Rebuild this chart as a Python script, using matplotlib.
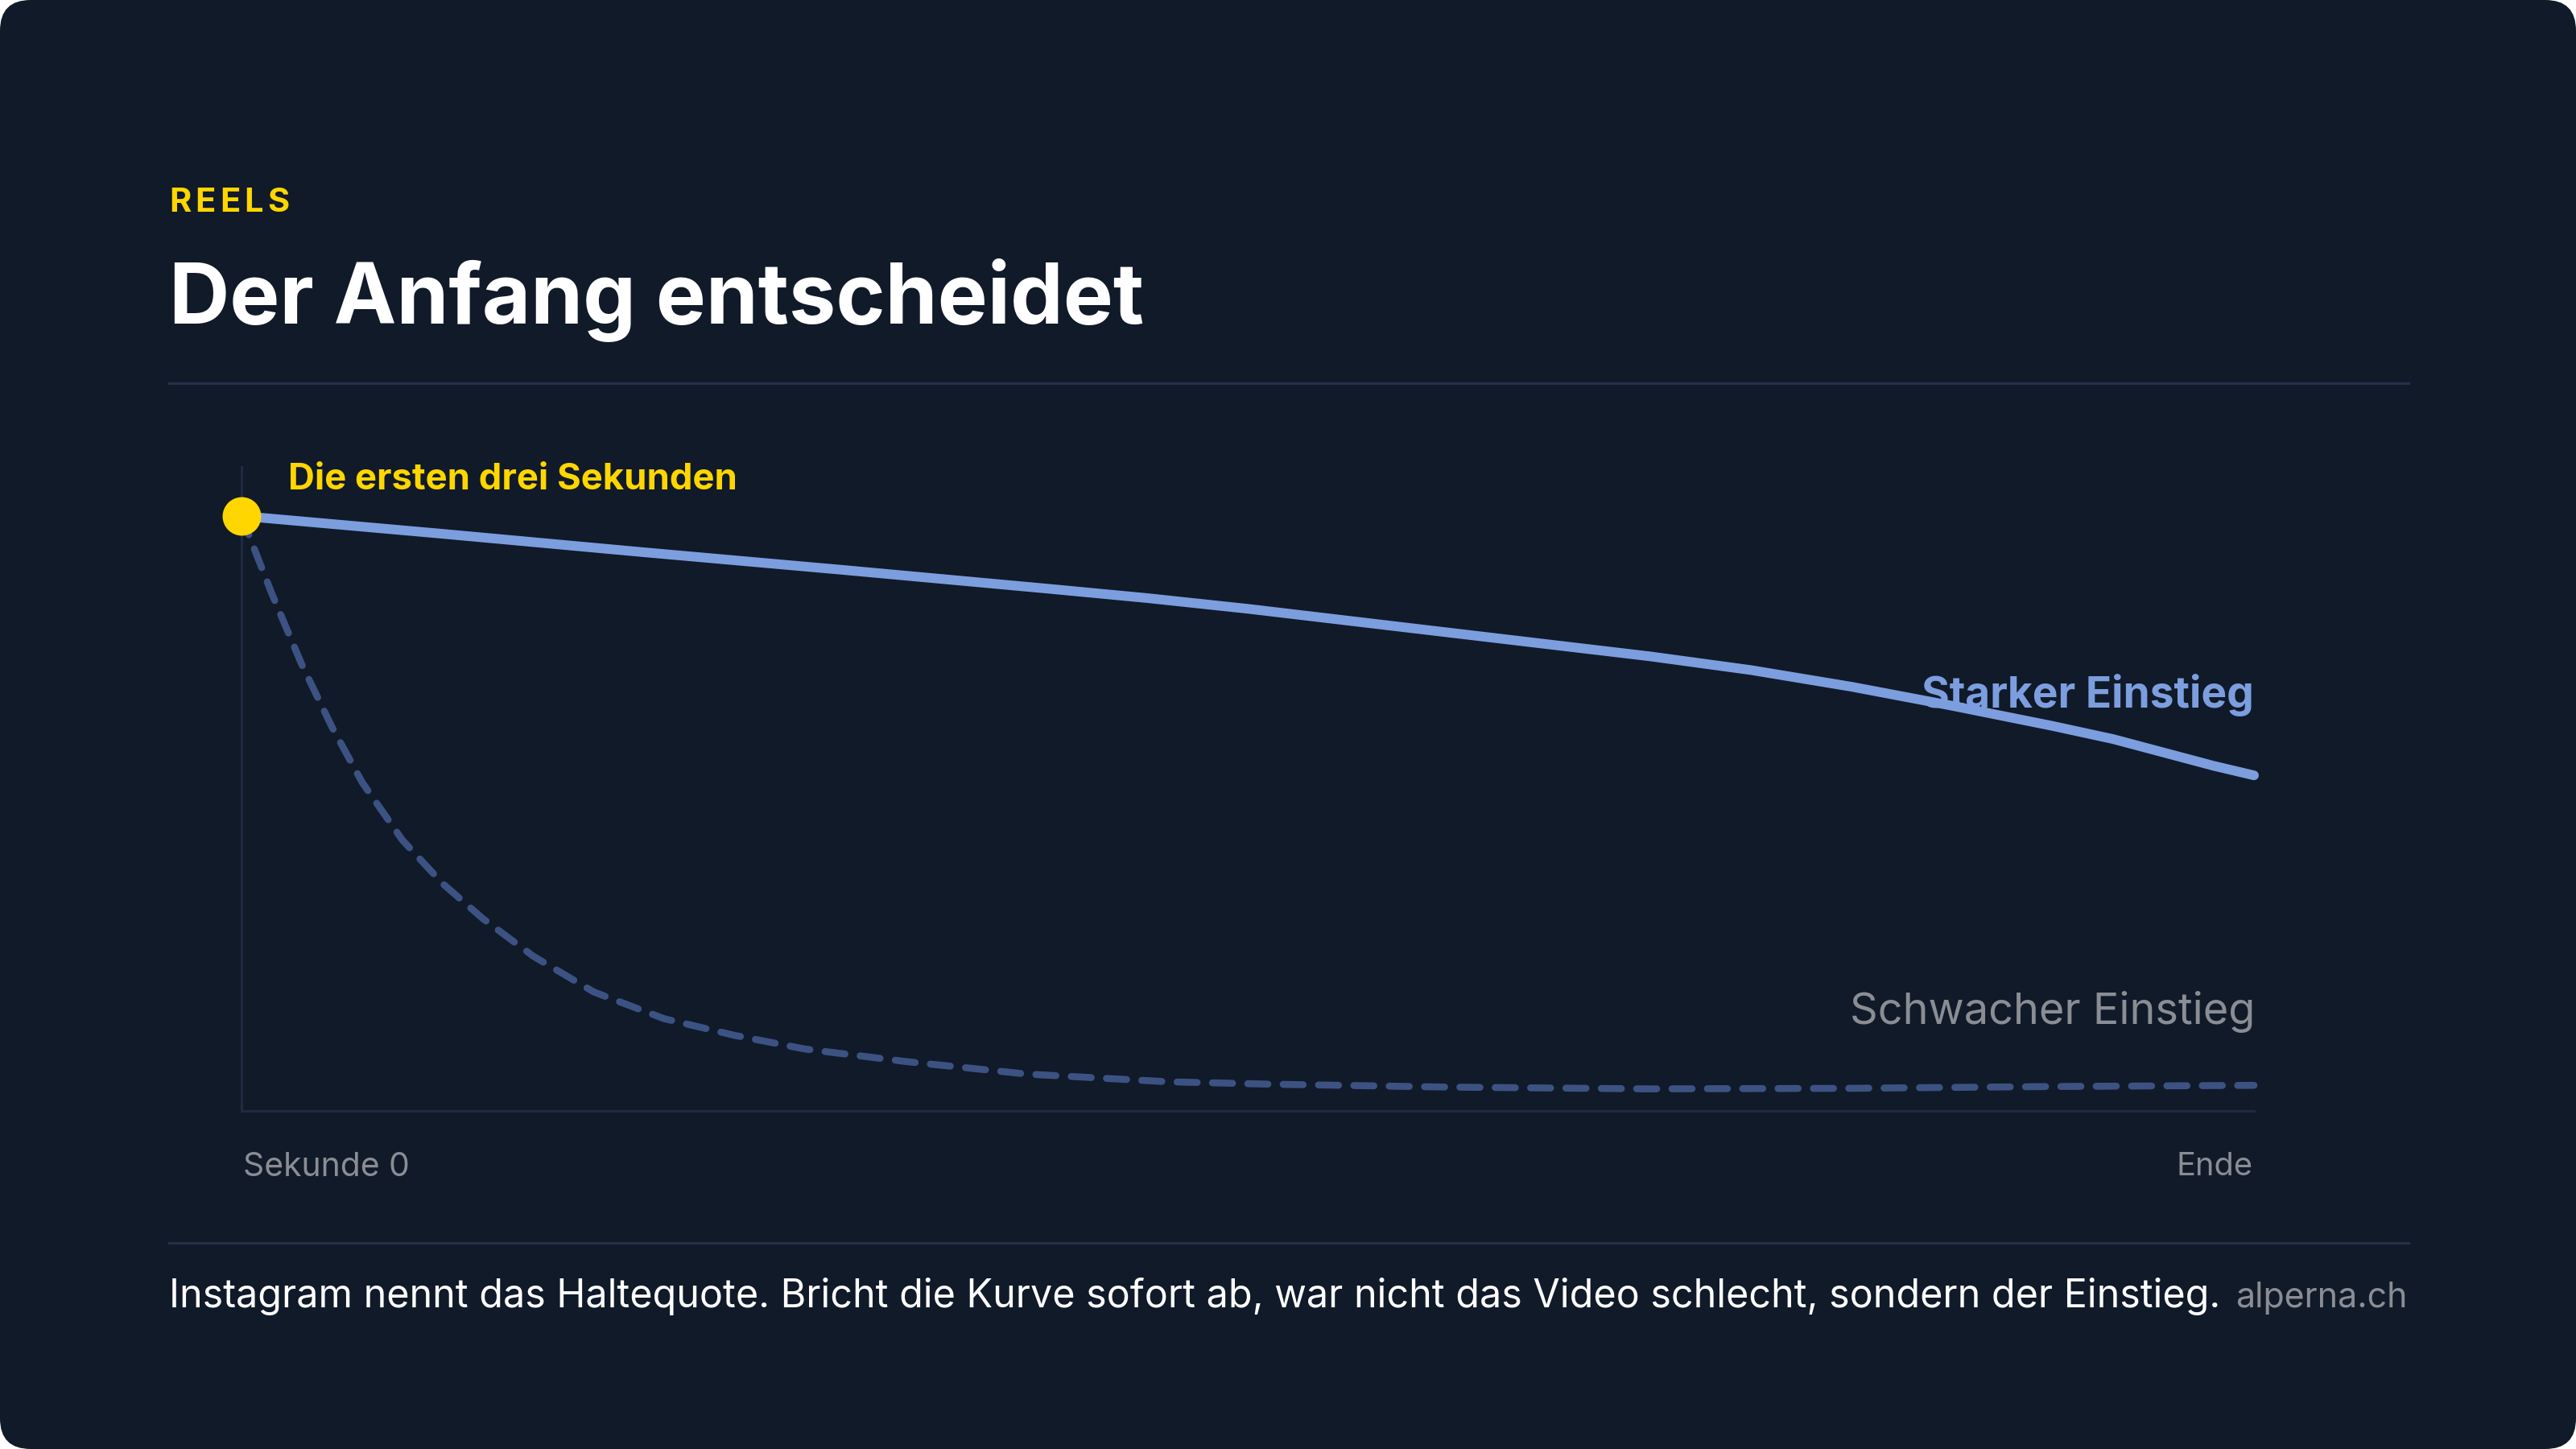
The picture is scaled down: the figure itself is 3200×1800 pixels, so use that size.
import matplotlib
matplotlib.use("Agg")
import matplotlib.pyplot as plt
from matplotlib.patches import FancyBboxPatch

# ---------------- data ----------------
strong_x = [0, 10, 20, 30, 40, 45, 50, 55, 60, 65, 70, 75, 80, 85, 90, 93, 96, 98, 100]
strong_y = [100, 97.0, 93.9, 90.9, 87.8, 86.2, 84.4, 82.4, 80.4, 78.4, 76.4, 74.1, 71.3,
            68.1, 64.7, 62.5, 59.8, 58.0, 56.4]

weak_x = [0, 1.5, 3, 4.5, 6, 8, 10, 12, 14.5, 17.5, 21, 24.5, 28, 33, 39, 46, 51, 60, 70, 80, 90, 100]
weak_y = [100, 87, 75, 64.5, 55.2, 45.5, 38.2, 32.3, 26, 20, 15.5, 12.7, 10.4, 8.3, 6.2, 4.9, 4.5,
          4.0, 3.7, 3.8, 4.1, 4.3]

kicker = "REELS"
title = "Der Anfang entscheidet"
marker_label = "Die ersten drei Sekunden"
strong_label = "Starker Einstieg"
weak_label = "Schwacher Einstieg"
x_start_label = "Sekunde 0"
x_end_label = "Ende"
footer = "Instagram nennt das Haltequote. Bricht die Kurve sofort ab, war nicht das Video schlecht, sondern der Einstieg."
source = "alperna.ch"

# ---------------- style ----------------
BG = "#111a29"
STRONG = "#7c9ede"
WEAK = "#3c5283"
YELLOW = "#ffd600"
GRAY = "#8a8d94"
AXIS = "#1f2b42"
DIVIDER = "#25304a"
WHITE = "#ffffff"
FONT = ["Inter", "DejaVu Sans"]

W, H, DPI = 3200, 1800, 100
plt.rcParams["font.family"] = FONT

fig = plt.figure(figsize=(W / DPI, H / DPI), dpi=DPI, facecolor="white")
bg = fig.add_axes([0, 0, 1, 1])
bg.set_xlim(0, W)
bg.set_ylim(H, 0)
bg.axis("off")
bg.add_patch(FancyBboxPatch((0, 0), W, H, boxstyle="round,pad=0,rounding_size=38",
                            fc=BG, ec="none", zorder=0))

# dividers
bg.plot([210, 2992], [476, 476], color=DIVIDER, lw=2.2, zorder=1)
bg.plot([210, 2992], [1544, 1544], color=DIVIDER, lw=2.2, zorder=1)

# chart axes
ax = fig.add_axes([300 / W, (H - 1380) / H, 2500 / W, 800 / H])
ax.set_facecolor("none")
ax.set_xlim(0, 100)
ax.set_ylim(0, 108.25)
for s in ["top", "right"]:
    ax.spines[s].set_visible(False)
for s in ["left", "bottom"]:
    ax.spines[s].set_color(AXIS)
    ax.spines[s].set_linewidth(2.2)
ax.set_xticks([])
ax.set_yticks([])

ax.plot(weak_x, weak_y, color=WEAK, lw=6.2, dashes=(2.9, 2.2), dash_capstyle="round",
        solid_joinstyle="round", clip_on=False, zorder=2)
ax.plot(strong_x, strong_y, color=STRONG, lw=8.6, solid_capstyle="round",
        solid_joinstyle="round", clip_on=False, zorder=3)
ax.plot([strong_x[0]], [strong_y[0]], "o", ms=34.5, color=YELLOW, mec="none",
        clip_on=False, zorder=4)

fig.canvas.draw()
renderer = fig.canvas.get_renderer()


def fit_text(x, y, s, width, ha="left", **kw):
    t = bg.text(x, y, s, ha=ha, va="baseline", fontsize=40, zorder=5, **kw)
    w = t.get_window_extent(renderer).width
    t.set_fontsize(40 * width / w)
    return t


# kicker with letter spacing
fs_k = 30
widths = []
for ch in kicker:
    t = bg.text(0, 0, ch, fontsize=fs_k, fontweight="bold")
    widths.append(t.get_window_extent(renderer).width)
    t.remove()
track = (149 - sum(widths)) / (len(kicker) - 1)
xk = 210
for ch, w in zip(kicker, widths):
    bg.text(xk, 263, ch, fontsize=fs_k, fontweight="bold", color=YELLOW,
            ha="left", va="baseline", zorder=5)
    xk += w + track

fit_text(210, 402, title, 1212, color=WHITE, fontweight="bold")
fit_text(358, 608, marker_label, 558, color=YELLOW, fontweight="bold")
fit_text(2800, 879, strong_label, 413, ha="right", color=STRONG, fontweight="bold")
fit_text(2801, 1272, weak_label, 504, ha="right", color=GRAY)
fit_text(302, 1461, x_start_label, 207, color=GRAY)
fit_text(2799, 1460, x_end_label, 95, ha="right", color=GRAY)
fit_text(210, 1624, footer, 2550, color=WHITE)
fit_text(2991, 1624, source, 214, ha="right", color=GRAY)

fig.savefig("out.png", dpi=DPI, facecolor=fig.get_facecolor())
